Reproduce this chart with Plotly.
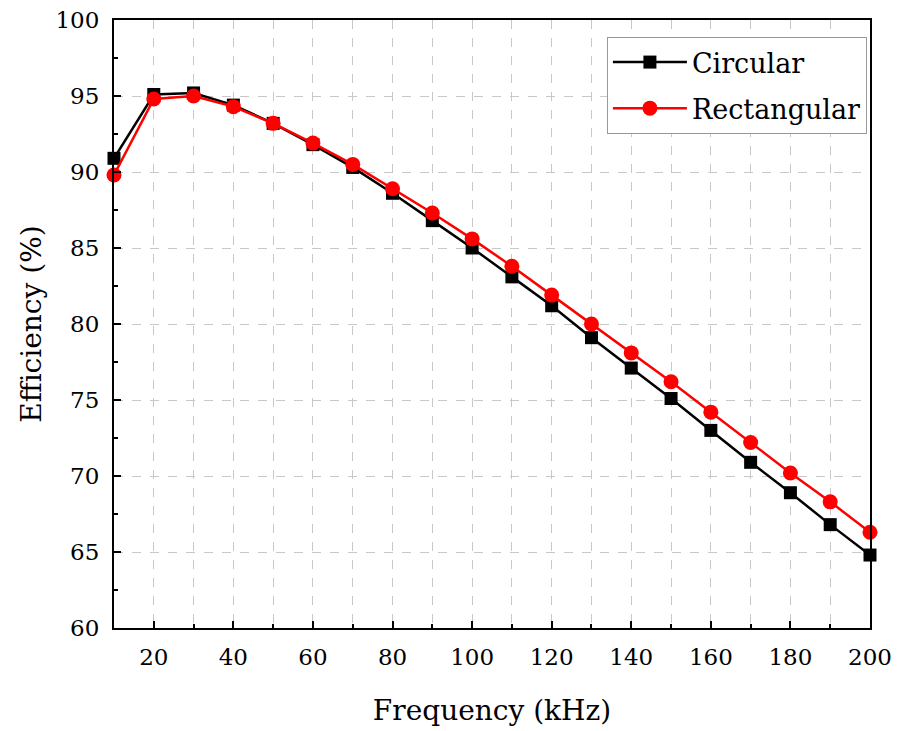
import plotly.graph_objects as go

# Frequency sweep (kHz)
freq = [10, 20, 30, 40, 50, 60, 70, 80, 90, 100,
        110, 120, 130, 140, 150, 160, 170, 180, 190, 200]

# Measured efficiency (%) for the two coil geometries
eff_circular = [90.9, 95.1, 95.2, 94.4, 93.2, 91.8, 90.3, 88.6, 86.8, 85.0,
                83.1, 81.2, 79.1, 77.1, 75.1, 73.0, 70.9, 68.9, 66.8, 64.8]
eff_rectangular = [89.8, 94.8, 95.0, 94.3, 93.2, 91.9, 90.5, 88.9, 87.3, 85.6,
                   83.8, 81.9, 80.0, 78.1, 76.2, 74.2, 72.2, 70.2, 68.3, 66.3]

x_ticks = [20, 40, 60, 80, 100, 120, 140, 160, 180, 200]
y_ticks = [60, 65, 70, 75, 80, 85, 90, 95, 100]

FONT = "DejaVu Serif"

fig = go.Figure()
fig.add_trace(go.Scatter(
    x=freq, y=eff_circular, name="Circular", mode="lines+markers",
    legendgroup="circ",
    line=dict(color="#000000", width=2.5),
    marker=dict(symbol="square", size=13, color="#000000"),
    cliponaxis=False,
))
fig.add_trace(go.Scatter(
    x=freq, y=eff_rectangular, name="Rectangular", mode="lines+markers",
    legendgroup="rect",
    line=dict(color="#ff0000", width=2.5),
    marker=dict(symbol="circle", size=15, color="#ff0000"),
    cliponaxis=False,
))

grid_col = "#c8c8c8"

fig.update_xaxes(
    range=[10, 200], tickvals=x_ticks, ticks="inside", ticklen=7, tickwidth=2,
    tickcolor="#000", showline=True, linecolor="#000", linewidth=2, mirror=True,
    showgrid=True, gridcolor=grid_col, griddash="dash", gridwidth=1,
    minor=dict(dtick=10, tick0=0, ticks="inside", ticklen=4, tickwidth=2,
               tickcolor="#000", showgrid=True, gridcolor=grid_col,
               griddash="dash", gridwidth=1),
    zeroline=False, ticklabelstandoff=7, automargin=False,
    tickfont=dict(family=FONT, size=23, color="#000"),
    title=dict(text="Frequency (kHz)", font=dict(family=FONT, size=28, color="#000"),
               standoff=32),
)
fig.update_yaxes(
    range=[60, 100], tickvals=y_ticks, ticks="inside", ticklen=7, tickwidth=2,
    tickcolor="#000", showline=True, linecolor="#000", linewidth=2, mirror=True,
    showgrid=True, gridcolor=grid_col, griddash="dash", gridwidth=1,
    minor=dict(dtick=2.5, tick0=60, ticks="inside", ticklen=4, tickwidth=2,
               tickcolor="#000", showgrid=False),
    zeroline=False, ticklabelstandoff=8, automargin=False,
    tickfont=dict(family=FONT, size=23, color="#000"),
    title=dict(text="Efficiency (%)", font=dict(family=FONT, size=28, color="#000"),
               standoff=6),
)

fig.update_layout(
    width=899, height=731,
    margin=dict(l=114, r=29, t=20, b=103),
    plot_bgcolor="#ffffff", paper_bgcolor="#ffffff",
    font=dict(family=FONT, color="#000"),
    legend=dict(
        x=0.652, y=0.972, xanchor="left", yanchor="top",
        bgcolor="#ffffff", bordercolor="#999999", borderwidth=1,
        font=dict(family=FONT, size=27, color="#000"),
        tracegroupgap=8, itemwidth=74,
    ),
    showlegend=True,
)

fig.write_html("out.html")
